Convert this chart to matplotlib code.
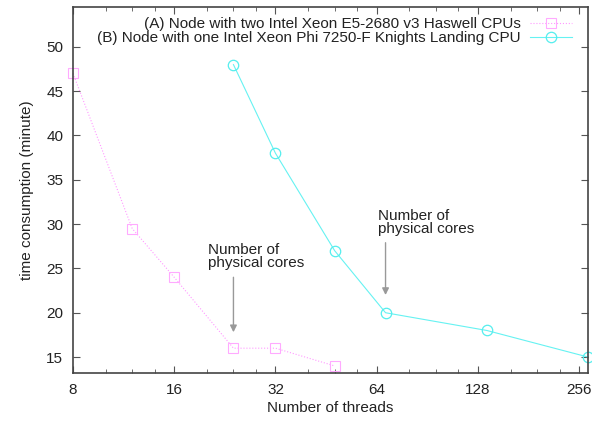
import matplotlib

matplotlib.use("Agg")
import matplotlib.pyplot as plt  # noqa: E402
from matplotlib.ticker import FixedLocator, NullFormatter  # noqa: E402

plt.rcParams["font.family"] = ["Liberation Sans", "DejaVu Sans"]

# (A) Haswell node, (B) Knights Landing node
haswell_threads = [8, 12, 16, 24, 32, 48]
haswell_minutes = [47, 29.5, 24, 16, 16, 14]
knl_threads = [24, 32, 48, 68, 136, 272]
knl_minutes = [48, 38, 27, 20, 18, 15]

haswell_label = "(A) Node with two Intel Xeon E5-2680 v3 Haswell CPUs"
knl_label = "(B) Node with one Intel Xeon Phi 7250-F Knights Landing CPU"
x_major = [8, 16, 32, 64, 128, 256]
x_minor = [10, 12, 14, 20, 24, 28, 40, 48, 56, 80, 96, 112, 160, 192, 224]
y_ticks = [15, 20, 25, 30, 35, 40, 45, 50]

fig = plt.figure(figsize=(5.92, 4.23), dpi=100)
ax = fig.add_axes([73 / 592, 50 / 423, 515 / 592, 366 / 423])

ax.plot(haswell_threads, haswell_minutes, color="#ff99ff", ls=":", lw=0.8,
        marker="s", ms=6.5, mfc="none", mec="#ffaaff", mew=0.8,
        label=haswell_label, clip_on=False)
ax.plot(knl_threads, knl_minutes, color="#66f2f2", ls="-", lw=0.8,
        marker="o", ms=7.5, mfc="none", mec="#55eeee", mew=0.9,
        label=knl_label, clip_on=False)

ax.set_xscale("log", base=2)
ax.set_xlim(8, 272)
ax.set_ylim(13.2, 54.5)
ax.xaxis.set_major_locator(FixedLocator(x_major))
ax.set_xticklabels([str(v) for v in x_major])
ax.xaxis.set_minor_locator(FixedLocator(x_minor))
ax.xaxis.set_minor_formatter(NullFormatter())
ax.set_yticks(y_ticks)
ax.tick_params(direction="in", top=True, right=True, labelsize=11,
               length=5, width=0.8, color="#555555", pad=7,
               labelcolor="#222222")
ax.tick_params(which="minor", direction="in", top=True, length=3,
               width=0.6, color="#555555")
for sp in ax.spines.values():
    sp.set_color("#444444")
    sp.set_linewidth(1.2)

ax.set_xlabel("Number of threads", fontsize=11, labelpad=3, color="#222222")
ax.set_ylabel("time consumption (minute)", fontsize=11, labelpad=9,
              color="#222222")

# physical-core markers
ax.annotate("", xy=(24, 17.8), xytext=(24, 24.0),
            arrowprops=dict(arrowstyle="-|>", color="#999999", lw=1.0,
                            mutation_scale=10, shrinkA=0, shrinkB=0))
ax.text(20.1, 27.9, "Number of\nphysical cores", fontsize=11, va="top",
        ha="left", linespacing=0.9, color="#222222")
ax.annotate("", xy=(68, 22.0), xytext=(68, 27.9),
            arrowprops=dict(arrowstyle="-|>", color="#999999", lw=1.0,
                            mutation_scale=10, shrinkA=0, shrinkB=0))
ax.text(64.5, 31.7, "Number of\nphysical cores", fontsize=11, va="top",
        ha="left", linespacing=0.9, color="#222222")

leg = ax.legend(loc="upper right", frameon=False, markerfirst=False,
                fontsize=11, handlelength=2.75, labelspacing=-0.02,
                borderaxespad=0, borderpad=0, handletextpad=0.6,
                bbox_to_anchor=(0.969, 0.972))
for t in leg.get_texts():
    t.set_color("#222222")

fig.savefig("out.png", dpi=100)
